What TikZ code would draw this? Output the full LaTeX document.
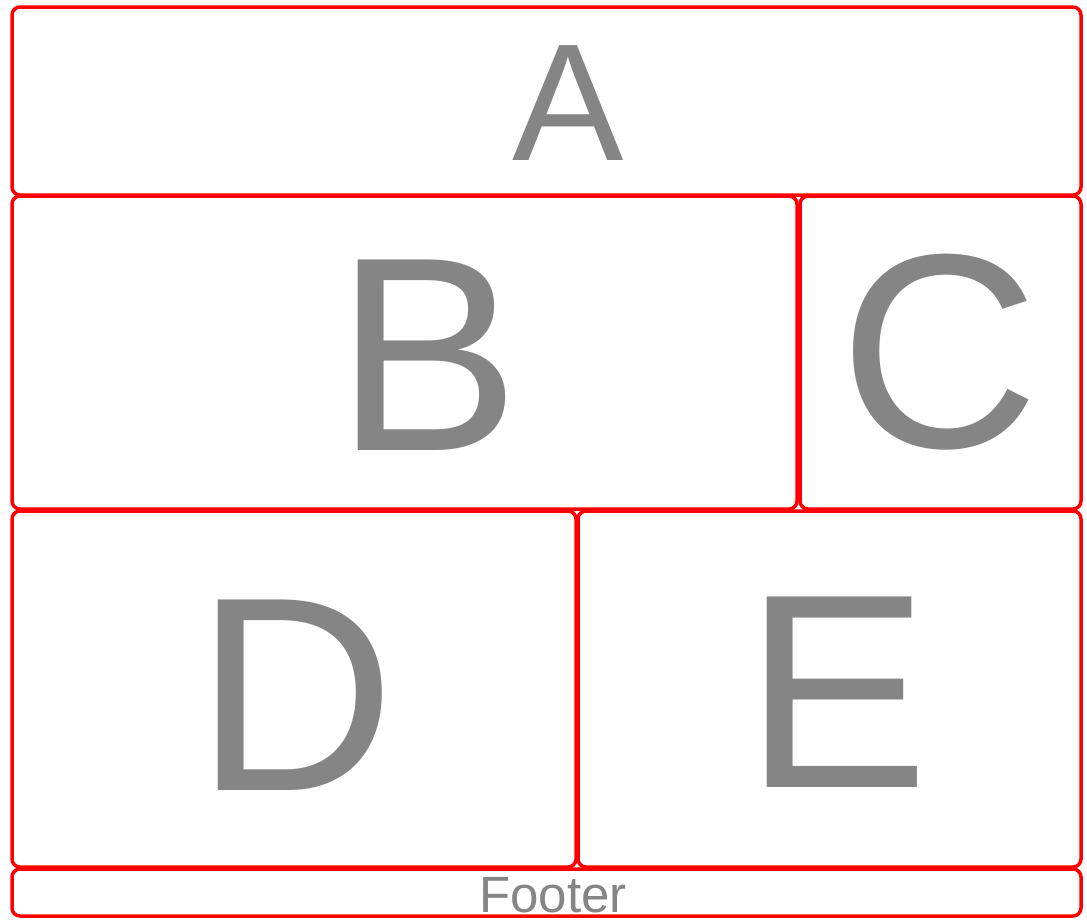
\documentclass[tikz,border=0pt]{standalone}
\usepackage{fontspec}
\setmainfont{Liberation Sans}
\definecolor{boxred}{RGB}{255,0,0}
\definecolor{txtgray}{RGB}{133,133,133}
\begin{document}
\begin{tikzpicture}[x=1pt,y=-1pt,
  box/.style={draw=boxred,line width=3.5pt,rounded corners=8pt},
  lbl/.style={text=txtgray,anchor=base,inner sep=0pt}]
\useasboundingbox[fill=white] (0,0) rectangle (1087,919);
\draw[box] (12,7) rectangle (1081,195);
\draw[box] (12,196) rectangle (797,509);
\draw[box] (800,196) rectangle (1081,509);
\draw[box] (12,511) rectangle (576,867);
\draw[box] (578,511) rectangle (1081,867);
\draw[box] (12,869) rectangle (1081,916);
\node[lbl,font=\fontsize{167}{167}\selectfont] (a) at (568,160) {A};
\node[lbl,font=\fontsize{277}{277}\selectfont] (b) at (428,450) {B};
\node[lbl,font=\fontsize{277}{277}\selectfont] (c) at (940,447) {C};
\node[lbl,font=\fontsize{277}{277}\selectfont] (d) at (296,790) {D};
\node[lbl,font=\fontsize{277}{277}\selectfont] (e) at (837,787) {E};
\node[lbl,font=\fontsize{51}{51}\selectfont] (f) at (553,912) {Footer};
\end{tikzpicture}
\end{document}
